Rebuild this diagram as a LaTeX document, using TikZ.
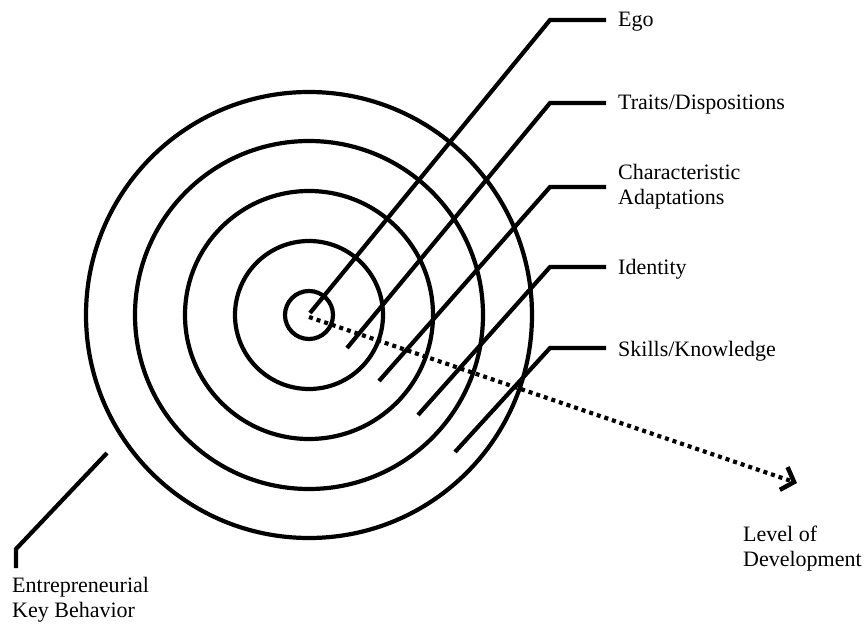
\documentclass[tikz,border=0pt]{standalone}
\usepackage{fontspec}
\setmainfont{Liberation Serif}
\usetikzlibrary{arrows.meta}
\begin{document}
\begin{tikzpicture}[x=1pt,y=-1pt,
  ring/.style={draw, circle, line width=4.2pt, inner sep=0pt, outer sep=0pt},
  leader/.style={line width=4.2pt, line join=miter},
  lbl/.style={inner sep=0pt, font=\fontsize{22}{25}\selectfont, align=left},
  devarrow/.style={line width=4.2pt, dash pattern=on 4pt off 4pt,
    -{Straight Barb[length=11pt,width=24pt,line width=4.5pt]}}]
\useasboundingbox (0,0) rectangle (867,628);
\coordinate (ctr) at (309,315);
% concentric rings
\node[ring, minimum size=48pt]  (r1) at (ctr) {};
\node[ring, minimum size=148pt] (r2) at (ctr) {};
\node[ring, minimum size=248pt] (r3) at (ctr) {};
\node[ring, minimum size=348pt] (r4) at (ctr) {};
\node[ring, minimum size=446pt] (r5) at (ctr) {};
% labels
\node[lbl, anchor=base west] (ego) at (618,27) {Ego};
\node[lbl, anchor=base west] (traits) at (618,110) {Traits/Dispositions};
\node[lbl, anchor=west] (charad) at (618,187) {Characteristic\\Adaptations};
\node[lbl, anchor=base west] (ident) at (618,275) {Identity};
\node[lbl, anchor=base west] (skills) at (618,356) {Skills/Knowledge};
\node[lbl, anchor=north west] (ekb) at (12,577) {Entrepreneurial\\Key Behavior};
\node[lbl, anchor=north west] (lod) at (743,526) {Level of\\Development};
% leader start / corner / end points
\coordinate (egoS) at (310,313);   \coordinate (egoC) at (550,20);   \coordinate (egoE) at (606,20);
\coordinate (trS) at (347,348);    \coordinate (trC) at (550,103);   \coordinate (trE) at (606,103);
\coordinate (chS) at (379,381);    \coordinate (chC) at (550,187);   \coordinate (chE) at (606,187);
\coordinate (idS) at (418,415);    \coordinate (idC) at (550,267);   \coordinate (idE) at (606,267);
\coordinate (skS) at (455,452);    \coordinate (skC) at (550,348);   \coordinate (skE) at (606,348);
\coordinate (ekS) at (107,453);    \coordinate (ekC) at (16,549);    \coordinate (ekE) at (16,568);
\draw[leader] (egoS) -- (egoC) -- (egoE);
\draw[leader] (trS) -- (trC) -- (trE);
\draw[leader] (chS) -- (chC) -- (chE);
\draw[leader] (idS) -- (idC) -- (idE);
\draw[leader] (skS) -- (skC) -- (skE);
\draw[leader] (ekS) -- (ekC) -- (ekE);
% development arrow
\coordinate (devS) at (309,317);
\coordinate (devE) at (797,483);
\draw[devarrow] (devS) -- (devE);
\end{tikzpicture}
\end{document}
